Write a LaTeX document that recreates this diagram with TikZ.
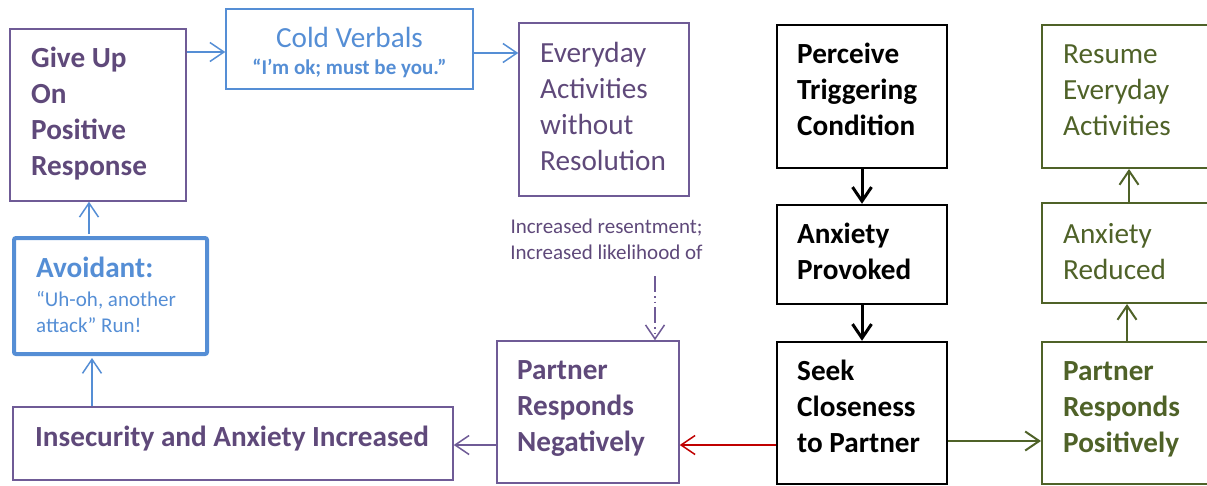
\documentclass[tikz,border=0pt]{standalone}
\usepackage{fontspec}
\setmainfont{Carlito}
\usetikzlibrary{arrows.meta,calc}
\definecolor{ptext}{HTML}{5F497A}
\definecolor{pline}{HTML}{6F5B96}
\definecolor{bl}{HTML}{558ED5}
\definecolor{gr}{HTML}{4F6228}
\definecolor{rd}{HTML}{C00000}
\newcommand\bigF{\fontsize{29.2}{36}\selectfont}
\newcommand\smF{\fontsize{21}{26}\selectfont}
\newcommand\stB{\rule{0pt}{24pt}}
\newcommand\stS{\rule{0pt}{18pt}}
\begin{document}
\begin{tikzpicture}[x=1pt,y=-1pt,
  box/.style={draw, rectangle, inner sep=0pt, line width=1.5pt},
  txt/.style={anchor=north west, inner sep=0pt, align=left},
  tip/.style={-{Straight Barb[length=14pt,width=19pt]}},
  parr/.style={tip, draw=pline, line width=1.5pt},
  barr/.style={tip, draw=bl, line width=1.5pt},
  karr/.style={tip, draw=black, line width=3pt},
  garr/.style={tip, draw=gr, line width=2pt},
  rarr/.style={tip, draw=rd, line width=1.5pt},
]
\useasboundingbox (0,0) rectangle (1207,485);
% boxes
\node[box, draw=pline, minimum width=176pt, minimum height=172pt] (giveup) at (98,115) {};
\node[box, draw=bl, minimum width=247pt, minimum height=80pt] (cold) at (349.5,49) {};
\node[box, draw=pline, minimum width=170pt, minimum height=173pt] (everyday) at (604,109.5) {};
\node[box, draw=bl, line width=4pt, rounded corners=2pt, minimum width=193pt, minimum height=116pt] (avoid) at (110.5,296) {};
\node[box, draw=pline, minimum width=440pt, minimum height=73pt] (insec) at (233,443.5) {};
\node[box, draw=pline, minimum width=182pt, minimum height=142pt] (prn) at (588,412) {};
\node[box, draw=black, line width=2.5pt, minimum width=170pt, minimum height=143pt] (perceive) at (862,96.5) {};
\node[box, draw=black, line width=2.5pt, minimum width=170pt, minimum height=99pt] (provoked) at (862,254.5) {};
\node[box, draw=black, line width=2.5pt, minimum width=170pt, minimum height=142pt] (seek) at (862,413) {};
\node[box, draw=gr, line width=2pt, minimum width=170pt, minimum height=143pt] (resume) at (1127,96.5) {};
\node[box, draw=gr, line width=2pt, minimum width=170pt, minimum height=100pt] (reduced) at (1127,253) {};
\node[box, draw=gr, line width=2pt, minimum width=170pt, minimum height=142pt] (prp) at (1127,413) {};
% texts
\node[txt, text=ptext, font=\bigF\bfseries] (giveupT) at (31,43) {\stB Give Up\\On\\Positive\\Response};
\node[anchor=base, inner sep=0pt, text=bl, font=\bigF] (coldT) at (349.5,47) {Cold Verbals};
\node[anchor=base, inner sep=0pt, text=bl, font=\smF\bfseries] (coldQ) at (349.5,74) {“I’m ok; must be you.”};
\node[txt, text=ptext, font=\bigF] (everydayT) at (540,38) {\stB Everyday\\Activities\\without\\Resolution};
\node[txt, text=bl, font=\bigF\bfseries] (avoidT) at (36,253) {\stB Avoidant:};
\node[txt, text=bl, font=\smF] (avoidQ) at (36,288) {\stS “Uh-oh, another\\attack” Run!};
\node[txt, text=ptext, font=\bigF\bfseries] (insecT) at (35,422) {\stB Insecurity and Anxiety Increased};
\node[txt, text=ptext, font=\bigF\bfseries] (prnT) at (517,355) {\stB Partner\\Responds\\Negatively};
\node[anchor=north, inner sep=0pt, align=center, text=ptext, font=\smF] (label) at (606.5,215) {\stS Increased resentment;\\Increased likelihood of};
\node[txt, text=black, font=\bigF\bfseries] (perceiveT) at (797,39) {\stB Perceive\\Triggering\\Condition};
\node[txt, text=black, font=\bigF\bfseries] (provokedT) at (797,219) {\stB Anxiety\\Provoked};
\node[txt, text=black, font=\bigF\bfseries] (seekT) at (797,356) {\stB Seek\\Closeness\\to Partner};
\node[txt, text=gr, font=\bigF] (resumeT) at (1063,39) {\stB Resume\\Everyday\\Activities};
\node[txt, text=gr, font=\bigF] (reducedT) at (1063,219) {\stB Anxiety\\Reduced};
\node[txt, text=gr, font=\bigF\bfseries] (prpT) at (1063,356) {\stB Partner\\Responds\\Positively};
% connectors
\draw[barr] ($(giveup.east |- cold.west)+(0,3)$) -- ($(cold.west)+(0,3)$);
\draw[barr] ($(cold.east)+(0,4)$) -- ($(cold.east -| everyday.west)+(0,4)$);
\draw[barr] ($(avoid.north)+(-21.5,-2)$) -- ($(avoid.north |- giveup.south)+(-21.5,0)$);
\draw[barr] ($(avoid.south |- insec.north)+(-18.5,0)$) -- ($(avoid.south)+(-18.5,2)$);
\draw[parr] ($(prn.west)+(0,33)$) -- ($(prn.west -| insec.east)+(0,33)$);
\draw[rarr] ($(seek.west)+(0,32)$) -- ($(seek.west -| prn.east)+(0,32)$);
\draw[garr] ($(seek.east)+(0,28)$) -- ($(seek.east -| prp.west)+(0,28)$);
\draw[karr] (perceive.south) -- (provoked.north);
\draw[karr] (provoked.south) -- (seek.north);
\draw[garr] (prp.north) -- (reduced.south);
\draw[garr] ($(reduced.north)+(2,0)$) -- ($(resume.south)+(2,0)$);
\coordinate (dstart) at (655,276);
\draw[parr, dash pattern=on 16pt off 4pt on 1.5pt off 4pt on 1.5pt off 4pt] (dstart) -- (dstart |- prn.north);
\end{tikzpicture}
\end{document}
